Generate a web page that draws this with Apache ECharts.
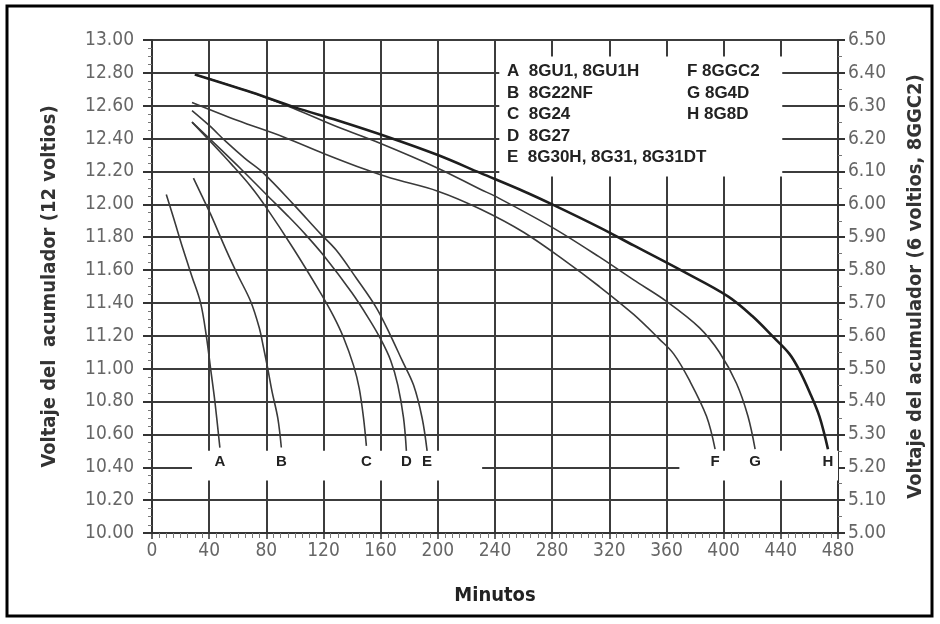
<!DOCTYPE html>
<html>
<head>
<meta charset="utf-8">
<script src="https://cdn.jsdelivr.net/npm/echarts@6/dist/echarts.min.js"></script>
<style>
  html, body { margin: 0; padding: 0; background: #fff; }
  #chart { width: 940px; height: 624px; }
</style>
</head>
<body>
<div id="chart"></div>
<script>
// curvas de descarga: [minutos, voltios (12 V)]
const curveA = [[10, 12.06], [15, 11.92], [22, 11.72], [28, 11.56], [34, 11.40], [38, 11.20], [41, 11.00], [44, 10.80], [47.5, 10.52]];
const curveB = [[29, 12.16], [35, 12.05], [41, 11.94], [52, 11.72], [60, 11.57], [69, 11.41], [75, 11.25], [78, 11.13], [81, 11.00], [84, 10.86], [88, 10.70], [90.5, 10.52]];
const curveC = [[28, 12.50], [40, 12.39], [56, 12.24], [69, 12.11], [80, 11.98], [99, 11.73], [118, 11.46], [127, 11.32], [134, 11.19], [141, 11.02], [145, 10.88], [148, 10.70], [150, 10.53]];
const curveD = [[28, 12.50], [45, 12.36], [64, 12.20], [80, 12.06], [95, 11.93], [106, 11.83], [120, 11.69], [140, 11.46], [152, 11.30], [160, 11.18], [167, 11.05], [172, 10.90], [176, 10.70], [178, 10.50]];
const curveE = [[28, 12.57], [40, 12.48], [52, 12.38], [65, 12.28], [78, 12.19], [99, 12.00], [118, 11.82], [129, 11.72], [143, 11.55], [157, 11.37], [167, 11.20], [175, 11.05], [183, 10.90], [189, 10.70], [192.5, 10.50]];
const curveF = [[28, 12.62], [60, 12.51], [92, 12.41], [120, 12.31], [150, 12.21], [167, 12.16], [200, 12.08], [230, 11.97], [260, 11.83], [290, 11.65], [313, 11.50], [337, 11.33], [355, 11.18], [365, 11.09], [376, 10.93], [388, 10.71], [394, 10.51]];
const curveG = [[30, 12.79], [70, 12.68], [100, 12.58], [130, 12.47], [160, 12.37], [200, 12.22], [230, 12.09], [240, 12.05], [280, 11.86], [313, 11.68], [337, 11.54], [360, 11.41], [383, 11.25], [397, 11.10], [409, 10.91], [417, 10.71], [422, 10.51]];
const curveH = [[30, 12.79], [70, 12.68], [100, 12.59], [130, 12.51], [165, 12.41], [200, 12.30], [230, 12.19], [260, 12.08], [280, 12.00], [313, 11.86], [337, 11.75], [372, 11.59], [403, 11.44], [420, 11.32], [435, 11.19], [446, 11.09], [453, 10.99], [460, 10.86], [467, 10.71], [473, 10.51]];

const curveNames = ['A', 'B', 'C', 'D', 'E', 'F', 'G', 'H'];
const curves = [curveA, curveB, curveC, curveD, curveE, curveF, curveG, curveH];

// textos de la leyenda
const legendLeft = ['A  8GU1, 8GU1H', 'B  8G22NF', 'C  8G24', 'D  8G27', 'E  8G30H, 8G31, 8G31DT'];
const legendRight = ['F 8GGC2', 'G 8G4D', 'H 8G8D'];

const narrow = "'DejaVu Sans Condensed', 'DejaVu Sans', sans-serif";
const labelY = 10.43; // fila de letras bajo las curvas

const chart = echarts.init(document.getElementById('chart'));

const series = [{
    // solo para tapar la cuadricula (recuadro de leyenda y fila de letras)
    type: 'line',
    data: [],
    silent: true,
    markArea: {
        silent: true,
        itemStyle: { color: '#fff' },
        data: [
            [{ coord: [243, 12.90] }, { coord: [441, 12.17] }],
            [{ coord: [28, 10.50] }, { coord: [231, 10.32] }],
            [{ coord: [369, 10.50] }, { coord: [480, 10.32] }]
        ]
    }
}];

curves.forEach((c, i) => {
    const last = c[c.length - 1];
    series.push({
        name: curveNames[i],
        type: 'line',
        data: c,
        smooth: 0.35,
        showSymbol: false,
        silent: true,
        lineStyle: { color: i === 7 ? '#1e1e1e' : '#3a3a3a', width: i === 7 ? 2.6 : 1.6 },
        markPoint: {
            symbol: 'circle',
            symbolSize: 0,
            silent: true,
            label: {
                show: true,
                position: 'inside',
                formatter: curveNames[i],
                fontFamily: 'Arial, "Liberation Sans", sans-serif',
                fontWeight: 'bold',
                fontSize: 15,
                color: '#222'
            },
            data: [{ coord: [last[0], labelY] }]
        }
    });
});

const graphic = [{
    type: 'rect',
    shape: { x: 7, y: 6, width: 925, height: 610 },
    style: { fill: 'none', stroke: '#000', lineWidth: 3 },
    silent: true
}];
const legendStyle = (t) => ({
    text: t,
    fill: '#222',
    fontSize: 17,
    fontWeight: 'bold',
    fontFamily: 'Arial, "Liberation Sans", sans-serif'
});
legendLeft.forEach((t, i) => {
    graphic.push({ type: 'text', x: 507, y: 63 + i * 21.5, z: 100, silent: true, style: legendStyle(t) });
});
legendRight.forEach((t, i) => {
    graphic.push({ type: 'text', x: 687, y: 63 + i * 21.5, z: 100, silent: true, style: legendStyle(t) });
});

const gridColor = '#3c3c3c';

const option = {
    backgroundColor: '#fff',
    animation: false,
    grid: { left: 152, right: 102, top: 40, bottom: 91 },
    xAxis: {
        type: 'value',
        min: 0,
        max: 480,
        interval: 40,
        name: 'Minutos',
        nameLocation: 'middle',
        nameGap: 53,
        nameTextStyle: { fontFamily: narrow, fontWeight: 'bold', fontSize: 20, color: '#222' },
        axisLine: { show: true, lineStyle: { color: '#333', width: 2 } },
        axisTick: { show: true, length: 6, lineStyle: { color: '#333', width: 1.5 } },
        minorTick: { show: true, splitNumber: 8, length: 5, lineStyle: { color: '#777', width: 1 } },
        axisLabel: { margin: 9, fontFamily: narrow, fontSize: 19, color: '#666' },
        splitLine: { show: true, lineStyle: { color: gridColor, width: 2 } }
    },
    yAxis: [{
        type: 'value',
        min: 10,
        max: 13,
        interval: 0.2,
        name: 'Voltaje del  acumulador (12 voltios)',
        nameLocation: 'middle',
        nameGap: 92,
        nameTextStyle: { fontFamily: narrow, fontWeight: 'bold', fontSize: 20, color: '#333' },
        axisLine: { show: true, lineStyle: { color: '#333', width: 2 } },
        axisTick: { show: true, length: 9, lineStyle: { color: '#333', width: 2 } },
        minorTick: { show: true, splitNumber: 4, length: 4, lineStyle: { color: '#777', width: 1 } },
        axisLabel: { margin: 18, fontFamily: narrow, fontSize: 19, color: '#666', formatter: v => v.toFixed(2) },
        splitLine: { show: true, lineStyle: { color: gridColor, width: 2 } }
    }, {
        type: 'value',
        position: 'right',
        min: 5,
        max: 6.5,
        interval: 0.1,
        name: 'Voltaje del acumulador (6 voltios, 8GGC2)',
        nameLocation: 'middle',
        nameGap: 68,
        nameTextStyle: { fontFamily: narrow, fontWeight: 'bold', fontSize: 20, color: '#333' },
        axisLine: { show: true, lineStyle: { color: '#333', width: 2 } },
        axisTick: { show: true, length: 7, lineStyle: { color: '#333', width: 2 } },
        minorTick: { show: true, splitNumber: 2, length: 4, lineStyle: { color: '#777', width: 1 } },
        axisLabel: { margin: 10, fontFamily: narrow, fontSize: 19, color: '#666', formatter: v => v.toFixed(2) },
        splitLine: { show: false }
    }],
    graphic: graphic,
    series: series
};

chart.setOption(option);
</script>
</body>
</html>
